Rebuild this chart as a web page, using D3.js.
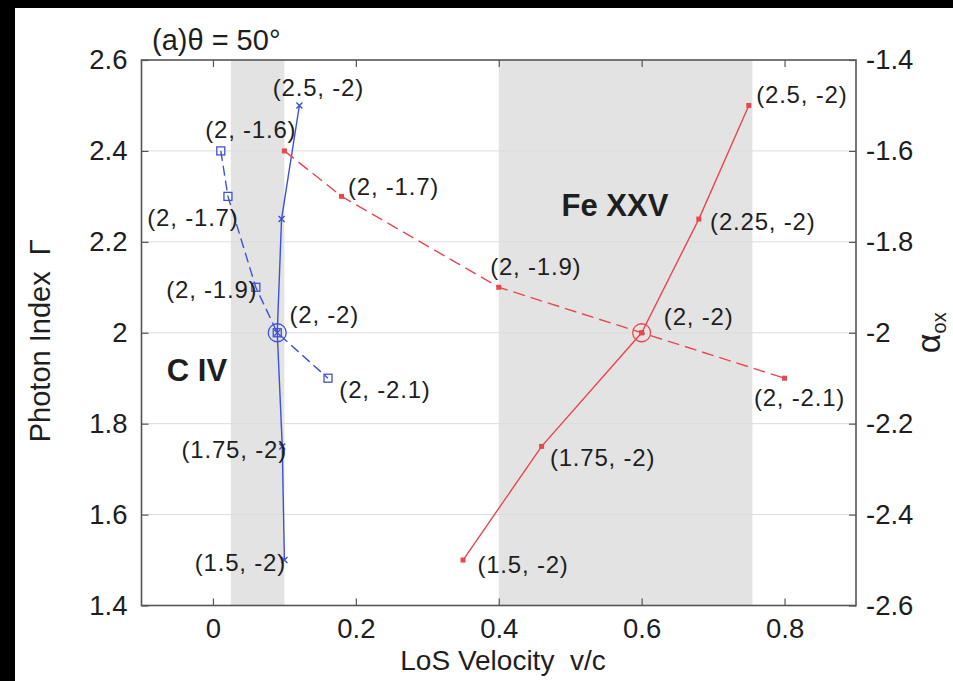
<!DOCTYPE html>
<html>
<head>
<meta charset="utf-8">
<script src="https://cdn.jsdelivr.net/npm/d3@7"></script>
<style>
  html, body { margin: 0; padding: 0; background: #000; }
  svg { display: block; }
  text { font-family: "Liberation Sans", Arial, Helvetica, sans-serif; fill: #1e1e1e; white-space: pre; }
</style>
</head>
<body>
<svg id="chart" width="953" height="681"></svg>
<script>
// C IV: photon index varied at alpha_ox = -2 (left axis)
const civGamma = [1.5, 1.75, 2.0, 2.25, 2.5];
const civGammaVel = [0.1, 0.097, 0.09, 0.096, 0.121];
// C IV: alpha_ox varied at photon index = 2 (right axis)
const civAox = [-1.6, -1.7, -1.9, -2.0, -2.1];
const civAoxVel = [0.011, 0.021, 0.06, 0.09, 0.161];
// Fe XXV: photon index varied at alpha_ox = -2 (left axis)
const feGamma = [1.5, 1.75, 2.0, 2.25, 2.5];
const feGammaVel = [0.35, 0.46, 0.6, 0.68, 0.75];
// Fe XXV: alpha_ox varied at photon index = 2 (right axis)
const feAox = [-1.6, -1.7, -1.9, -2.0, -2.1];
const feAoxVel = [0.1, 0.18, 0.4, 0.6, 0.8];

// velocity bands of the two ions
const bandNames = ["C IV", "Fe XXV"];
const bandLo = [0.025, 0.4];
const bandHi = [0.1, 0.755];

const xTicks = [0, 0.2, 0.4, 0.6, 0.8];
const gammaTicks = [1.4, 1.6, 1.8, 2.0, 2.2, 2.4, 2.6];
const aoxTicks = [-2.6, -2.4, -2.2, -2.0, -1.8, -1.6, -1.4];

const svg = d3.select("#chart");
const L = 141.5, R = 856, T = 60, B = 605.5;

const x = d3.scaleLinear().domain([-0.1, 0.9]).range([L, R]);
const yG = d3.scaleLinear().domain([1.4, 2.6]).range([B, T]);
const yA = d3.scaleLinear().domain([-2.6, -1.4]).range([B, T]);

const blue = "#3f51d6";
const red = "#e8474f";
const fmt = v => String(+v.toFixed(2));

// white sheet
svg.append("rect").attr("x", 15).attr("y", 8).attr("width", 953 - 15).attr("height", 681 - 8).attr("fill", "#fff");

// shaded bands
svg.selectAll("rect.band").data(bandLo).join("rect")
  .attr("class", "band")
  .attr("x", (d) => x(d))
  .attr("y", T)
  .attr("width", (d, i) => x(bandHi[i]) - x(d))
  .attr("height", B - T)
  .attr("fill", "#e3e3e3");

// horizontal grid
svg.append("g").selectAll("line").data(gammaTicks.slice(1, -1)).join("line")
  .attr("x1", L).attr("x2", R)
  .attr("y1", d => yG(d)).attr("y2", d => yG(d))
  .attr("stroke", "#dcdcdc").attr("stroke-width", 1);

// axes with inward ticks
const tickLen = 7;
const axisColor = "#555";
function styleAxis(g) {
  g.select(".domain").remove();
  g.selectAll(".tick line").attr("stroke", axisColor).attr("stroke-width", 1.2);
  g.selectAll(".tick text").attr("fill", "#1e1e1e")
    .style("font-family", "'Liberation Sans', Arial, sans-serif").style("font-size", "27.5px");
}
svg.append("g").attr("transform", `translate(0,${B})`)
  .call(d3.axisBottom(x).tickValues(xTicks).tickFormat(fmt).tickSizeInner(-tickLen).tickSizeOuter(0).tickPadding(13))
  .call(styleAxis);
svg.append("g").attr("transform", `translate(0,${T})`)
  .call(d3.axisTop(x).tickValues(xTicks).tickFormat("").tickSizeInner(-tickLen).tickSizeOuter(0))
  .call(styleAxis);
svg.append("g").attr("transform", `translate(${L},0)`)
  .call(d3.axisLeft(yG).tickValues(gammaTicks).tickFormat(fmt).tickSizeInner(-tickLen).tickSizeOuter(0).tickPadding(14))
  .call(styleAxis);
svg.append("g").attr("transform", `translate(${R},0)`)
  .call(d3.axisRight(yA).tickValues(aoxTicks).tickFormat(fmt).tickSizeInner(-tickLen).tickSizeOuter(0).tickPadding(10))
  .call(styleAxis);

// frame
svg.append("rect").attr("x", L).attr("y", T).attr("width", R - L).attr("height", B - T)
  .attr("fill", "none").attr("stroke", axisColor).attr("stroke-width", 1.6);

// series
const series = [
  { vel: civAox.map((a, i) => [civAoxVel[i], yA(a)]), color: blue, dash: "10,5", marker: "square",
    text: civAox.map(a => `(2, ${fmt(a)})`),
    label: [[30, -21], [-35, 21], [-44, 2], [47, -18], [57, 11]] },
  { vel: civGamma.map((g, i) => [civGammaVel[i], yG(g)]), color: blue, dash: null, marker: "x",
    text: civGamma.map(g => `(${fmt(g)}, -2)`),
    label: [[-44, 2], [-48, 3], null, null, [19, -18]] },
  { vel: feGamma.map((g, i) => [feGammaVel[i], yG(g)]), color: red, dash: null, marker: "dot",
    text: feGamma.map(g => `(${fmt(g)}, -2)`),
    label: [[60, 4], [61, 11], null, [64, 2], [53, -11]] },
  { vel: feAox.map((a, i) => [feAoxVel[i], yA(a)]), color: red, dash: "12,6", marker: "dot",
    text: feAox.map(a => `(2, ${fmt(a)})`),
    label: [null, [52, -10], [37, -21], [57, -16], [15, 19]] }
];

const line = d3.line().x(d => x(d[0])).y(d => d[1]);

series.forEach(s => {
  svg.append("path").datum(s.vel)
    .attr("d", line).attr("fill", "none")
    .attr("stroke", s.color).attr("stroke-width", 1.4)
    .attr("stroke-dasharray", s.dash);
});

// reference point (2, -2) rings
[[civGammaVel[2], yG(2.0), blue], [feGammaVel[2], yG(2.0), red]].forEach(([v, py, c]) => {
  svg.append("circle").attr("cx", x(v)).attr("cy", py).attr("r", 9)
    .attr("fill", "none").attr("stroke", c).attr("stroke-width", 1.3);
});

series.forEach(s => {
  const g = svg.append("g");
  s.vel.forEach(([v, py]) => {
    const px = x(v);
    if (s.marker === "x") {
      g.append("path").attr("d", `M${px - 3},${py - 3}L${px + 3},${py + 3}M${px - 3},${py + 3}L${px + 3},${py - 3}`)
        .attr("stroke", s.color).attr("stroke-width", 1.4);
    } else if (s.marker === "square") {
      g.append("rect").attr("x", px - 4).attr("y", py - 4).attr("width", 8).attr("height", 8)
        .attr("fill", "none").attr("stroke", s.color).attr("stroke-width", 1.3);
    } else {
      g.append("rect").attr("x", px - 2.5).attr("y", py - 2.5).attr("width", 5).attr("height", 5)
        .attr("fill", s.color);
    }
  });
});

// point labels
series.forEach(s => {
  s.vel.forEach(([v, py], i) => {
    const off = s.label[i];
    if (!off) return;
    svg.append("text")
      .attr("x", x(v) + off[0]).attr("y", py + off[1])
      .attr("text-anchor", "middle").attr("dominant-baseline", "central")
      .style("font-size", "24px").style("letter-spacing", "0.8px")
      .text(s.text[i]);
  });
});

// ion names
const bandLabelPos = [[197, 370], [615, 205]];
bandNames.forEach((n, i) => {
  svg.append("text").attr("x", bandLabelPos[i][0]).attr("y", bandLabelPos[i][1])
    .attr("text-anchor", "middle").attr("dominant-baseline", "central")
    .style("font-size", "31px").style("font-weight", "bold").text(n);
});

// panel title
svg.append("text").attr("x", 152).attr("y", 50)
  .style("font-size", "29px").text("(a)θ = 50°");

// axis titles
svg.append("text").attr("x", 503).attr("y", 670)
  .attr("text-anchor", "middle").style("font-size", "28px").text("LoS Velocity  v/c");
svg.append("text").attr("transform", `translate(50,${(T + B) / 2 + 8}) rotate(-90)`)
  .attr("text-anchor", "middle").style("font-size", "29px").text("Photon Index  Γ");
const at = svg.append("text").attr("transform", `translate(940,${(T + B) / 2}) rotate(-90)`)
  .attr("text-anchor", "middle");
at.append("tspan").style("font-size", "34px").text("α");
at.append("tspan").style("font-size", "20px").attr("dy", 6).text("ox");
</script>
</body>
</html>
